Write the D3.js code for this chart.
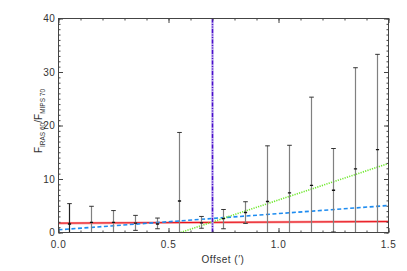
<!DOCTYPE html>
<html><head><meta charset="utf-8">
<script src="https://cdn.jsdelivr.net/npm/d3@7"></script>
<style>body{margin:0;background:#fff}svg{display:block}text{font-family:Arial,"Liberation Sans",sans-serif;fill:#333}</style>
</head><body><svg id="c" width="407" height="271"></svg>
<script>
const offsets = [0.05,0.15,0.25,0.35,0.45,0.55,0.65,0.75,0.85,0.95,1.05,1.15,1.25,1.35,1.45];
const ratio   = [1.6,1.9,1.9,1.75,1.6,5.9,1.8,2.6,3.75,5.8,7.4,8.8,7.9,11.9,15.5];
const errHigh = [5.4,4.9,4.1,3.2,2.7,18.7,3.0,4.3,5.75,16.2,16.3,25.3,15.7,30.8,33.3];
const errLow  = [0,0,0,0.4,0.7,0,0.8,0.7,1.7,0,0,0,0.1,0,0];
const redFit   = [[0,1.75],[1.5,2.05]];
const blueFit  = [[0,0.5],[1.5,5.05]];
const greenFit = [[0.555,0],[1.5,12.9]];
const markerX = 0.7;
const xTicks = [0,0.5,1.0,1.5];
const yTicks = [0,10,20,30,40];

const svg = d3.select("#c");
const L=58.5,R=388.5,T=18.5,B=232.5;
const x = d3.scaleLinear().domain([0,1.5]).range([L,R]);
const y = d3.scaleLinear().domain([0,40]).range([B,T]);

const clip = svg.append("clipPath").attr("id","pc").append("rect")
  .attr("x",L).attr("y",T).attr("width",R-L).attr("height",B-T);
const g = svg.append("g").attr("clip-path","url(#pc)");

// fits
const line = d3.line().x(d=>x(d[0])).y(d=>y(d[1]));
g.append("path").attr("d",line(redFit)).attr("stroke","#f8a0a0").attr("stroke-width",2.5).attr("fill","none");
g.append("path").attr("d",line(redFit)).attr("stroke","#e8101a").attr("stroke-width",1).attr("fill","none");
g.append("path").attr("d",line(blueFit)).attr("stroke","#1e8cf0").attr("stroke-width",1.6).attr("stroke-dasharray","4,2.5").attr("fill","none");
g.append("path").attr("d",line(greenFit)).attr("stroke","#70e830").attr("stroke-width",1.6).attr("stroke-dasharray","1.2,1.2").attr("fill","none");

// vertical marker
g.append("line").attr("x1",x(markerX)).attr("x2",x(markerX)).attr("y1",T).attr("y2",B)
  .attr("stroke","#b8a4ec").attr("stroke-width",2.2);
g.append("line").attr("x1",x(markerX)).attr("x2",x(markerX)).attr("y1",T).attr("y2",B)
  .attr("stroke","#4a0ccc").attr("stroke-width",1.4).attr("stroke-dasharray","4,1.5,1,1.5,1,1.5");

// error bars
const eb = g.selectAll(".eb").data(offsets).enter().append("g");
eb.append("line").attr("x1",(d)=>x(d)).attr("x2",d=>x(d))
  .attr("y1",(d,i)=>y(errLow[i])).attr("y2",(d,i)=>y(errHigh[i]))
  .attr("stroke",(d,i)=>i===0?"#222":"#808080").attr("stroke-width",1.2);
eb.append("line").attr("x1",d=>x(d)-2.3).attr("x2",d=>x(d)+2.3)
  .attr("y1",(d,i)=>y(errHigh[i])).attr("y2",(d,i)=>y(errHigh[i]))
  .attr("stroke","#333").attr("stroke-width",1);
eb.append("line").attr("x1",d=>x(d)-2.3).attr("x2",d=>x(d)+2.3)
  .attr("y1",(d,i)=>y(errLow[i])).attr("y2",(d,i)=>y(errLow[i]))
  .attr("stroke","#333").attr("stroke-width",1);
eb.append("line").attr("x1",d=>x(d)-1.6).attr("x2",d=>x(d)+1.6)
  .attr("y1",(d,i)=>y(ratio[i])).attr("y2",(d,i)=>y(ratio[i]))
  .attr("stroke","#111").attr("stroke-width",1.4);

// frame
svg.append("rect").attr("x",L).attr("y",T).attr("width",R-L).attr("height",B-T)
  .attr("fill","none").attr("stroke","#444").attr("stroke-width",1);

// axes ticks
const axStyle = s=>s.call(a=>a.select(".domain").remove()).selectAll("line").attr("stroke","#444");
const xMinor = d3.range(0,1.5001,0.1);
const yMinor = d3.range(0,40.001,1);
svg.append("g").attr("transform",`translate(0,${B})`)
  .call(d3.axisTop(x).tickValues(xMinor).tickSize(2).tickFormat("")).call(axStyle);
svg.append("g").attr("transform",`translate(0,${B})`)
  .call(d3.axisTop(x).tickValues(xTicks).tickSize(4.5).tickFormat("")).call(axStyle);
svg.append("g").attr("transform",`translate(0,${T})`)
  .call(d3.axisBottom(x).tickValues(xMinor).tickSize(2).tickFormat("")).call(axStyle);
svg.append("g").attr("transform",`translate(0,${T})`)
  .call(d3.axisBottom(x).tickValues(xTicks).tickSize(4.5).tickFormat("")).call(axStyle);
svg.append("g").attr("transform",`translate(${L},0)`)
  .call(d3.axisRight(y).tickValues(yMinor).tickSize(2).tickFormat("")).call(axStyle);
svg.append("g").attr("transform",`translate(${L},0)`)
  .call(d3.axisRight(y).tickValues(yTicks).tickSize(4.5).tickFormat("")).call(axStyle);
svg.append("g").attr("transform",`translate(${R},0)`)
  .call(d3.axisLeft(y).tickValues(yMinor).tickSize(2).tickFormat("")).call(axStyle);
svg.append("g").attr("transform",`translate(${R},0)`)
  .call(d3.axisLeft(y).tickValues(yTicks).tickSize(4.5).tickFormat("")).call(axStyle);

// tick labels
svg.selectAll(".xl").data(xTicks).enter().append("text")
  .attr("x",d=>x(d)).attr("y",248).attr("text-anchor","middle")
  .attr("font-size",10).attr("letter-spacing",0.6).text(d=>d.toFixed(1));
svg.selectAll(".yl").data(yTicks).enter().append("text")
  .attr("x",L-3).attr("y",d=>y(d)+3.5).attr("text-anchor","end")
  .attr("font-size",10).attr("letter-spacing",0.6).text(d=>d);

svg.append("text").attr("x",223).attr("y",263).attr("text-anchor","middle")
  .attr("font-size",10).attr("letter-spacing",0.5).text("Offset (′)");

const yl = svg.append("text").attr("transform","translate(42,121) rotate(-90)")
  .attr("text-anchor","middle").attr("font-size",10);
yl.append("tspan").text("F");
yl.append("tspan").attr("font-size",6.5).attr("dy",3).text("IRAS 60");
yl.append("tspan").attr("dy",-3).text("/F");
yl.append("tspan").attr("font-size",6.5).attr("dy",3).text("MIPS 70");
</script></body></html>
